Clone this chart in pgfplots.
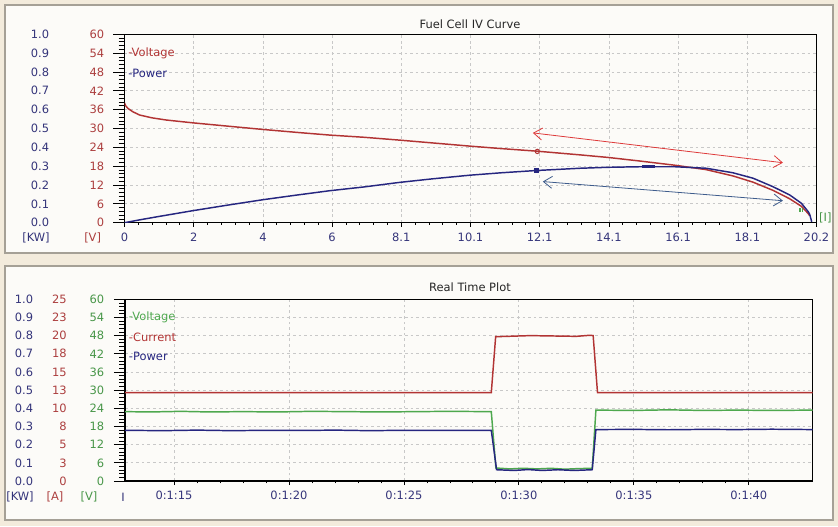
\documentclass[border=0pt]{standalone}
\usepackage{pgfplots}
\pgfplotsset{compat=1.18}
\usepackage{fontspec}
\setmainfont{DejaVu Sans}
\usetikzlibrary{arrows.meta}

\definecolor{bgcream}{RGB}{243,235,220}
\definecolor{panelbg}{RGB}{252,251,248}
\definecolor{panelln}{RGB}{165,160,150}
\definecolor{vred}{RGB}{178,52,52}
\definecolor{pnavy}{RGB}{38,38,128}
\definecolor{vgreen}{RGB}{78,168,78}
\definecolor{lblnavy}{RGB}{52,52,122}
\definecolor{lblred}{RGB}{172,62,62}
\definecolor{lblgreen}{RGB}{72,150,72}
\definecolor{arrred}{RGB}{222,58,58}
\definecolor{arrblue}{RGB}{62,92,140}
\definecolor{gridc}{RGB}{200,200,200}

\pgfplotsset{
  every axis/.append style={font=\fontsize{8.6}{10}\selectfont},
  panel/.style={scale only axis, anchor=south west, tick pos=left, tick align=outside},
  base/.style={panel,
    axis line style={line width=0.9pt},
    grid=major,
    major grid style={gridc, line width=0.6pt, dash pattern=on 2pt off 2.2pt},
    xtick style={draw=none},
    ytick style={black, line width=0.6pt},
    major tick length=8.25pt, minor tick length=4.5pt,
    minor y tick num=4,
    xticklabel style={text=lblnavy, yshift=4.2pt}},
  over/.style={panel,
    axis line style={draw=none},
    ytick style={draw=none},
    xticklabels={,,,,,,,,,,,}},
}

\begin{document}
\begin{tikzpicture}
\fill[bgcream] (0,0) rectangle (628.5pt,394.5pt);
\draw[panelln, line width=1pt, fill=panelbg] (3.75pt,204.75pt) rectangle (624.75pt,390.75pt);
\draw[panelln, line width=1pt, fill=panelbg] (3.75pt,4.5pt) rectangle (624.75pt,195pt);

% ---------- Fuel Cell IV Curve ----------
\begin{axis}[base,
  at={(93.375pt,227.475pt)}, width=519pt, height=141.3pt,
  xmin=0, xmax=20.2, ymin=0, ymax=60,
  xtick={0,2.02,4.04,6.06,8.08,10.1,12.12,14.14,16.16,18.18,20.2},
  xticklabels={0,2,4,6,8.1,10.1,12.1,14.1,16.1,18.1,20.2},
  ytick={0,6,...,60},
  yticklabels={0,6,12,18,24,30,36,42,48,54,60},
  yticklabel style={text=lblred, anchor=east, xshift=-3.5pt}]
\addplot[vred, line width=1.1pt] coordinates {
(0,38.2)(0.03,37.3)(0.1,36.4)(0.25,35.3)(0.44,34.3)(0.8,33.4)(1.22,32.7)
(2.0,31.8)(3.16,30.6)(4.04,29.7)(5.1,28.7)(6.0,27.9)(7.0,27.2)(8.03,26.3)
(9.0,25.4)(10.07,24.4)(11.0,23.6)(12.02,22.8)(13.3,21.6)(14.1,20.8)
(15.0,19.7)(16.07,18.3)(16.98,16.9)(17.76,14.9)(18.35,12.9)(18.93,10.3)
(19.42,7.6)(19.76,5.2)(19.96,2.9)(20.0,2.2)};
\addplot[only marks, mark=o, mark size=1.6pt, vred, mark options={line width=0.8pt}]
  coordinates {(12.05,22.7)};
\addplot[only marks, mark=|, mark size=1.5pt, vgreen, mark options={line width=1pt}]
  coordinates {(19.72,3.9)(19.8,3.9)};
\draw[arrred, line width=0.6pt, {Straight Barb[length=6.5pt,width=9pt]}-{Straight Barb[length=6.5pt,width=9pt]}]
  (axis cs:11.92,28.6) -- (axis cs:19.22,19.1);
\draw[arrblue, line width=0.6pt, {Straight Barb[length=6.5pt,width=9pt]}-{Straight Barb[length=6.5pt,width=9pt]}]
  (axis cs:12.21,13.1) -- (axis cs:19.22,7.0);
\end{axis}

\begin{axis}[over,
  at={(93.375pt,227.475pt)}, width=519pt, height=141.3pt,
  xmin=0, xmax=20.2, ymin=0, ymax=1,
  xtick={0,2.02,4.04,6.06,8.08,10.1,12.12,14.14,16.16,18.18,20.2},
  minor x tick num=4, major tick length=3pt, minor tick length=1.7pt,
  xtick style={black, line width=0.6pt},
  ytick={0,0.1,0.2,0.3,0.4,0.5,0.6,0.7,0.8,0.9,1.0},
  yticklabels={0.0,0.1,0.2,0.3,0.4,0.5,0.6,0.7,0.8,0.9,1.0},
  yticklabel style={text=lblnavy, anchor=east, xshift=-50pt}]
\addplot[pnavy, line width=1.1pt] coordinates {
(0,0)(0.5,0.017)(1,0.033)(2,0.064)(3,0.093)(4.04,0.122)(5,0.146)(6,0.17)
(7,0.19)(8.03,0.214)(9,0.233)(10.07,0.252)(11,0.265)(12.02,0.277)(13.3,0.289)
(14.1,0.294)(15.04,0.297)(16.07,0.297)(16.98,0.289)(17.76,0.265)(18.35,0.236)
(18.93,0.191)(19.42,0.147)(19.76,0.103)(19.96,0.058)(20.0,0.045)(20.06,0.005)};
\addplot[pnavy, line width=2.2pt] coordinates {(15.1,0.297)(15.5,0.297)};
\addplot[only marks, mark=square*, mark size=1.5pt, pnavy] coordinates {(12.02,0.277)};
\end{axis}

% ---------- Real Time Plot ----------
\begin{axis}[base,
  at={(93.75pt,33.75pt)}, width=515.8pt, height=136.3pt,
  xmin=72.87, xmax=102.78, ymin=0, ymax=60,
  xtick={75,80,85,90,95,100},
  xticklabels={0:1:15,0:1:20,0:1:25,0:1:30,0:1:35,0:1:40},
  ytick={0,6,...,60},
  yticklabels={0,6,12,18,24,30,36,42,48,54,60},
  yticklabel style={text=lblgreen, anchor=east, xshift=-3.85pt}]
\addplot[vgreen, line width=1.1pt] coordinates {
(72.87,22.9)(74,22.8)(75.3,23.0)(76.5,22.8)(78,22.9)(79.5,22.8)(81,23.0)
(82.5,22.9)(84,22.8)(85.5,22.9)(87,23.0)(88.8,22.9)(89.0,4.3)(89.6,4.0)
(90.2,4.2)(90.8,4.0)(91.4,4.2)(92.0,3.9)(92.6,4.1)(93.19,4.2)(93.35,23.4)
(95,23.3)(96.5,23.5)(98,23.3)(99.5,23.4)(101,23.3)(102.78,23.4)};
\end{axis}

\begin{axis}[over,
  at={(93.75pt,33.75pt)}, width=515.8pt, height=136.3pt,
  xmin=72.87, xmax=102.78, ymin=0, ymax=25,
  xtick=\empty,
  ytick={0,2.5,...,25},
  yticklabels={0,3,5,8,10,13,15,18,20,23,25},
  yticklabel style={text=lblred, anchor=east, xshift=-35.9pt}]
\addplot[vred, line width=1.1pt] coordinates {
(72.87,12.15)(88.8,12.15)(88.99,19.85)(89.5,19.9)(90.5,20.0)(91.5,19.95)
(92.5,19.9)(93.1,20.05)(93.23,20.0)(93.42,12.15)(102.78,12.15)};
\end{axis}

\begin{axis}[over,
  at={(93.75pt,33.75pt)}, width=515.8pt, height=136.3pt,
  xmin=72.87, xmax=102.78, ymin=0, ymax=1,
  xtick={75,80,85,90,95,100},
  minor x tick num=4, major tick length=3pt, minor tick length=1.7pt,
  xtick style={black, line width=0.6pt},
  ytick={0,0.1,0.2,0.3,0.4,0.5,0.6,0.7,0.8,0.9,1.0},
  yticklabels={0.0,0.1,0.2,0.3,0.4,0.5,0.6,0.7,0.8,0.9,1.0},
  yticklabel style={text=lblnavy, anchor=east, xshift=-62.35pt}]
\addplot[pnavy, line width=1.1pt] coordinates {
(72.87,0.279)(74.5,0.277)(76,0.280)(77.5,0.277)(79,0.279)(80.5,0.278)
(82,0.280)(83.5,0.277)(85,0.279)(86.5,0.278)(88.8,0.279)(89.03,0.062)
(89.8,0.058)(90.4,0.063)(91,0.058)(91.7,0.062)(92.4,0.058)(93.19,0.062)
(93.35,0.283)(95,0.284)(96.5,0.282)(98,0.284)(99.5,0.283)(101,0.285)(102.78,0.283)};
\end{axis}

% titles, legends, unit labels
\begin{scope}[font=\fontsize{8.6}{10}\selectfont]
\node[black!85] at (352.5pt,376.5pt) {Fuel Cell IV Curve};
\node[black!85] at (352.5pt,178.9pt) {Real Time Plot};
\node[anchor=west, text=vred, inner sep=0pt] at (96pt,354.5pt) {-Voltage};
\node[anchor=west, text=pnavy, inner sep=0pt] at (96pt,339.5pt) {-Power};
\node[anchor=west, text=vgreen, inner sep=0pt] at (96.5pt,156.5pt) {-Voltage};
\node[anchor=west, text=vred, inner sep=0pt] at (96.5pt,141.5pt) {-Current};
\node[anchor=west, text=pnavy, inner sep=0pt] at (96.5pt,127.5pt) {-Power};
\node[text=lblnavy] at (27pt,216pt) {[KW]};
\node[text=lblred] at (69.5pt,216pt) {[V]};
\node[text=lblgreen] at (619pt,231pt) {[I]};
\node[text=lblnavy] at (15pt,21.5pt) {[KW]};
\node[text=lblred] at (41.25pt,21.5pt) {[A]};
\node[text=lblgreen] at (66.75pt,21.5pt) {[V]};
\node[text=lblnavy] at (92.25pt,21.5pt) {I};
\end{scope}
\pgfresetboundingbox
\path[use as bounding box] (0,0) rectangle (628.5pt,394.5pt);
\end{tikzpicture}
\end{document}
